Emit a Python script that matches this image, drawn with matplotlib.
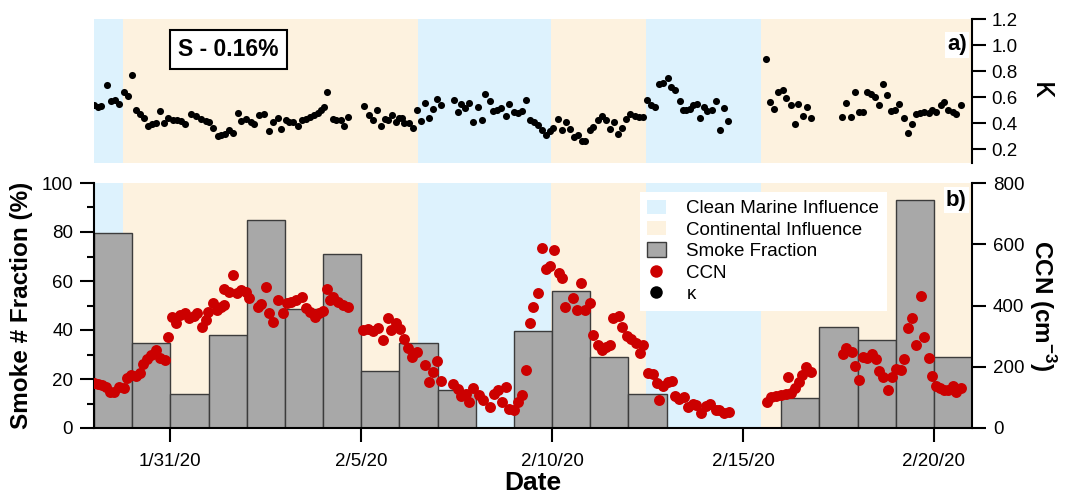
import numpy as np
import pandas as pd
import matplotlib
matplotlib.use("Agg")
import matplotlib.pyplot as plt
import matplotlib.dates as mdates
from matplotlib.patches import Patch
from matplotlib.lines import Line2D

plt.rcParams['font.family'] = ['Liberation Sans', 'DejaVu Sans']
plt.rcParams['mathtext.fontset'] = 'custom'
plt.rcParams['mathtext.rm'] = 'Liberation Sans'
plt.rcParams['mathtext.bf'] = 'Liberation Sans:bold'

# ---------------- data ----------------
T0 = pd.Timestamp('2020-01-31')   # day offsets below are measured from this date

smoke_dates = ["2020-01-29", "2020-01-30", "2020-01-31", "2020-02-01", "2020-02-02",
               "2020-02-03", "2020-02-04", "2020-02-05", "2020-02-06", "2020-02-07",
               "2020-02-08", "2020-02-09", "2020-02-10", "2020-02-11", "2020-02-12",
               "2020-02-13", "2020-02-14", "2020-02-15", "2020-02-16", "2020-02-17",
               "2020-02-18", "2020-02-19", "2020-02-20"]
smoke_frac = [79.5, 34.5, 13.8, 38.0, 85.0, 48.5, 71.0, 23.2, 34.5, 15.7,
              np.nan, 39.7, 56.0, 29.0, 14.0, np.nan, np.nan, np.nan, 12.3, 41.3,
              36.0, 93.0, 29.0]

region_starts = ["2020-01-29 00:00", "2020-01-29 18:00", "2020-02-06 11:30",
                 "2020-02-09 23:30", "2020-02-12 11:00", "2020-02-15 11:15"]
region_ends = ["2020-01-29 18:00", "2020-02-06 11:30", "2020-02-09 23:30",
               "2020-02-12 11:00", "2020-02-15 11:15", "2020-02-21 00:00"]
region_types = ["marine", "continental", "marine", "continental", "marine", "continental"]

ccn_days = [-2.01, -1.90, -1.80, -1.69, -1.57, -1.47, -1.34, -1.22, -1.14, -1.03,
            -0.90, -0.79, -0.73, -0.61, -0.51, -0.38, -0.26, -0.14, -0.07, 0.03,
            0.15, 0.26, 0.38, 0.50, 0.61, 0.71, 0.82, 0.93, 0.99, 1.11,
            1.22, 1.33, 1.40, 1.41, 1.54, 1.65, 1.74, 1.85, 1.98, 2.07,
            2.29, 2.37, 2.50, 2.59, 2.70, 2.81, 2.94, 3.05, 3.16, 3.29,
            3.44, 3.55, 3.66, 3.79, 3.90, 3.99, 4.10, 4.18, 4.25, 4.39,
            4.52, 4.65, 5.04, 5.17, 5.30, 5.43, 5.57, 5.70, 5.79, 5.92,
            6.02, 6.13, 6.22, 6.33, 6.46, 6.66, 6.77, 6.88, 6.98, 7.09,
            7.40, 7.53, 7.62, 7.75, 7.83, 7.94, 8.08, 8.18, 8.36, 8.49,
            8.58, 8.69, 8.78, 8.88, 9.00, 9.10, 9.21, 9.32, 9.41, 9.51,
            9.62, 9.73, 9.83, 9.95, 10.04, 10.17, 10.26, 10.35, 10.54, 10.64,
            10.76, 10.87, 10.98, 11.06, 11.19, 11.31, 11.41, 11.52, 11.60, 11.74,
            11.83, 11.95, 12.07, 12.20, 12.29, 12.39, 12.50, 12.64, 12.74, 12.79,
            12.91, 13.03, 13.14, 13.23, 13.33, 13.45, 13.55, 13.68, 13.77, 13.90,
            14.03, 14.14, 14.28, 14.38, 14.51, 14.64,
            15.62, 15.73, 15.86, 15.99, 16.12, 16.17, 16.26, 16.37, 16.46, 16.54,
            16.65, 16.78, 17.61, 17.71, 17.85, 17.94, 18.05, 18.15, 18.26, 18.39,
            18.48, 18.57, 18.67, 18.79, 18.90, 19.00, 19.13, 19.22, 19.31, 19.44,
            19.53, 19.66, 19.75, 19.86, 19.95, 20.05, 20.16, 20.27, 20.38, 20.49,
            20.59, 20.70]
ccn_vals = [147, 145, 140, 134, 118, 118, 134, 131, 162, 172,
            169, 180, 208, 224, 238, 254, 230, 222, 296, 363,
            344, 369, 376, 358, 366, 374, 331, 352, 380, 407,
            385, 396, 402, 453, 445, 500, 440, 451, 445, 423,
            396, 405, 459, 374, 347, 418, 374, 407, 412, 418,
            429, 391, 380, 361, 374, 383, 453, 418, 429, 412,
            402, 394, 320, 322, 318, 325, 287, 358, 320, 342,
            322, 292, 260, 232, 249, 205, 151, 183, 219, 154,
            143, 126, 105, 112, 85, 129, 107, 91, 67, 112,
            123, 85, 134, 63, 58, 85, 107, 189, 344, 394,
            442, 587, 518, 529, 582, 507, 489, 396, 423, 385,
            475, 385, 407, 303, 271, 254, 265, 271, 358, 366,
            331, 300, 292, 276, 246, 271, 180, 176, 147, 91,
            136, 151, 154, 104, 96, 102, 69, 80, 74, 49,
            71, 80, 58, 60, 49, 52,
            85, 102, 104, 107, 112, 167, 115, 132, 151, 172,
            200, 183, 243, 260, 249, 202, 158, 232, 230, 243,
            224, 187, 165, 123, 167, 194, 191, 224, 328, 358,
            271, 431, 298, 230, 169, 136, 132, 123, 123, 136,
            118, 132]

kappa_days = [-2.01, -1.90, -1.82, -1.66, -1.55, -1.45, -1.34, -1.22, -1.12, -1.01,
              -0.90, -0.79, -0.68, -0.58, -0.49, -0.38, -0.26, -0.16, -0.07, 0.06,
              0.17, 0.28, 0.38, 0.54, 0.67, 0.80, 0.93, 1.02, 1.12, 1.24,
              1.32, 1.43, 1.54, 1.65, 1.76, 1.85, 1.98, 2.11, 2.20, 2.33,
              2.46, 2.59, 2.68, 2.81, 2.91, 3.03, 3.12, 3.20, 3.33, 3.46,
              3.55, 3.66, 3.75, 3.86, 3.94, 4.03, 4.10, 4.25, 4.34, 4.47,
              4.54, 4.64, 5.08, 5.21, 5.30, 5.41, 5.52, 5.61, 5.70, 5.81,
              5.92, 6.00, 6.07, 6.13, 6.25, 6.35, 6.46, 6.57, 6.66, 6.77,
              6.87, 6.98, 7.09, 7.42, 7.53, 7.62, 7.73, 7.83, 7.94, 8.05,
              8.16, 8.25, 8.36, 8.45, 8.55, 8.66, 8.78, 8.88, 8.99, 9.10,
              9.21, 9.32, 9.42, 9.52, 9.62, 9.73, 9.84, 9.95, 10.03, 10.15,
              10.26, 10.37, 10.47, 10.58, 10.69, 10.79, 10.87, 10.98, 11.08, 11.19,
              11.31, 11.41, 11.52, 11.63, 11.72, 11.83, 11.94, 12.04, 12.16, 12.27,
              12.39, 12.49, 12.59, 12.70, 12.81, 12.91, 13.03, 13.12, 13.23, 13.35,
              13.44, 13.52, 13.61, 13.70, 13.79, 13.87, 13.98, 14.07, 14.19, 14.29,
              14.40, 14.51, 14.62,
              15.60, 15.71, 15.82, 15.91, 16.04, 16.12, 16.25, 16.35, 16.45, 16.56,
              16.67, 16.78, 17.59, 17.71, 17.83, 17.93, 18.04, 18.15, 18.24, 18.35,
              18.46, 18.57, 18.66, 18.77, 18.87, 18.99, 19.09, 19.22, 19.31, 19.42,
              19.53, 19.63, 19.75, 19.86, 19.96, 20.05, 20.18, 20.27, 20.38, 20.49,
              20.59, 20.70]
kappa_vals = [0.544, 0.526, 0.533, 0.697, 0.569, 0.582, 0.551, 0.641, 0.608, 0.772,
              0.505, 0.469, 0.444, 0.382, 0.392, 0.405, 0.495, 0.403, 0.444, 0.428,
              0.423, 0.415, 0.397, 0.469, 0.454, 0.431, 0.415, 0.410, 0.364, 0.300,
              0.308, 0.321, 0.351, 0.326, 0.482, 0.418, 0.436, 0.408, 0.392, 0.462,
              0.474, 0.341, 0.410, 0.441, 0.359, 0.423, 0.410, 0.410, 0.377, 0.428,
              0.436, 0.449, 0.462, 0.480, 0.505, 0.526, 0.641, 0.436, 0.423, 0.423,
              0.377, 0.449, 0.533, 0.462, 0.423, 0.505, 0.377, 0.436, 0.423, 0.462,
              0.410, 0.444, 0.444, 0.403, 0.403, 0.367, 0.500, 0.418, 0.556, 0.441,
              0.513, 0.585, 0.539, 0.577, 0.487, 0.546, 0.518, 0.556, 0.410, 0.526,
              0.423, 0.628, 0.572, 0.492, 0.500, 0.518, 0.459, 0.551, 0.487, 0.480,
              0.492, 0.582, 0.423, 0.410, 0.385, 0.351, 0.308, 0.341, 0.367, 0.436,
              0.346, 0.410, 0.359, 0.295, 0.308, 0.262, 0.262, 0.351, 0.372, 0.428,
              0.454, 0.423, 0.359, 0.410, 0.321, 0.367, 0.436, 0.474, 0.454, 0.449,
              0.449, 0.577, 0.539, 0.526, 0.705, 0.710, 0.751, 0.680, 0.659, 0.569,
              0.500, 0.500, 0.513, 0.539, 0.551, 0.441, 0.526, 0.492, 0.505, 0.572,
              0.351, 0.521, 0.415,
              0.897, 0.564, 0.508, 0.641, 0.659, 0.595, 0.539, 0.397, 0.551, 0.454,
              0.526, 0.444, 0.449, 0.556, 0.449, 0.641, 0.487, 0.487, 0.641, 0.628,
              0.603, 0.544, 0.705, 0.621, 0.492, 0.500, 0.551, 0.444, 0.326, 0.392,
              0.469, 0.480, 0.487, 0.482, 0.500, 0.487, 0.544, 0.564, 0.505, 0.487,
              0.474, 0.544]

x_ticks = ["2020-01-31", "2020-02-05", "2020-02-10", "2020-02-15", "2020-02-20"]
x_range = ["2020-01-29", "2020-02-21"]

# ---------------- styles ----------------
C_MARINE = '#DDF2FD'
C_CONT = '#FDF2DF'
C_BAR = '#A8A8A8'
C_CCN = '#CC0000'
region_color = {"marine": C_MARINE, "continental": C_CONT}

def to_dt(days):
    return T0 + pd.to_timedelta(np.asarray(days, dtype=float), unit='D')

fig = plt.figure(figsize=(10.65, 5.0), dpi=100)
ax_b = fig.add_axes([0.0883, 0.144, 0.8244, 0.490])
ax_a = fig.add_axes([0.0883, 0.675, 0.8244, 0.287])

xlim = [pd.Timestamp(x_range[0]), pd.Timestamp(x_range[1])]

for ax in (ax_a, ax_b):
    for s, e, t in zip(region_starts, region_ends, region_types):
        ax.axvspan(pd.Timestamp(s), pd.Timestamp(e), color=region_color[t], lw=0, zorder=0)
    ax.set_xlim(xlim)

# ----- top panel: kappa -----
ax_a.scatter(to_dt(kappa_days), kappa_vals, s=26, color='black', zorder=3, linewidths=0)
ax_a.set_ylim(0.1, 1.2)
ax_a.set_yticks([0.2, 0.4, 0.6, 0.8, 1.0, 1.2])
ax_a.yaxis.set_major_formatter(matplotlib.ticker.FormatStrFormatter('%.1f'))
ax_a.yaxis.tick_right()
ax_a.yaxis.set_label_position('right')
for sp in ['left', 'top', 'bottom']:
    ax_a.spines[sp].set_visible(False)
ax_a.spines['right'].set_linewidth(1.5)
ax_a.tick_params(axis='y', direction='out', length=10, width=1.5, labelsize=13.5, pad=4)
ax_a.set_xticks([])
ax_a.set_ylabel('κ', rotation=270, fontsize=24, labelpad=18, va='center')
ax_a.text(0.153, 0.785, 'S - 0.16%', transform=ax_a.transAxes, fontsize=16.5,
          fontweight='bold', ha='center', va='center', zorder=5,
          bbox=dict(boxstyle='square,pad=0.35', fc='white', ec='black', lw=1.5))
ax_a.text(0.994, 0.82, 'a)', transform=ax_a.transAxes, fontsize=16, fontweight='bold',
          ha='right', va='center', zorder=5,
          bbox=dict(boxstyle='square,pad=0.1', fc='white', ec='none'))

# ----- bottom panel: smoke fraction bars + CCN -----
bars = ax_b.bar(pd.to_datetime(smoke_dates), smoke_frac, width=1.0, align='edge',
                color=C_BAR, edgecolor='#3C3C3C', linewidth=1.0, zorder=2)
ax_b.set_ylim(0, 100)
ax_b.set_yticks([0, 20, 40, 60, 80, 100])
ax_b.set_yticks([10, 30, 50, 70, 90], minor=True)
ax_b.spines['top'].set_visible(False)
ax_b.spines['right'].set_visible(False)
for sp in ['left', 'bottom']:
    ax_b.spines[sp].set_linewidth(1.5)
ax_b.tick_params(axis='y', which='major', direction='out', length=10, width=1.5,
                 labelsize=13.5, pad=5)
ax_b.tick_params(axis='y', which='minor', direction='out', length=5, width=1.5)
ax_b.set_xticks(pd.to_datetime(x_ticks))
ax_b.xaxis.set_major_formatter(mdates.DateFormatter('%-m/%-d/%y'))
ax_b.tick_params(axis='x', which='major', direction='out', length=10, width=1.5,
                 labelsize=13.5, pad=8)
ax_b.tick_params(axis='x', which='minor', length=0)
ax_b.set_ylabel('Smoke # Fraction (%)', fontsize=17.5, fontweight='bold', labelpad=6)
ax_b.set_xlabel('Date', fontsize=19, fontweight='bold', labelpad=1)

ax2 = ax_b.twinx()
ax2.scatter(to_dt(ccn_days), ccn_vals, s=62, color=C_CCN, zorder=3, linewidths=0)
ax2.set_ylim(0, 800)
ax2.set_yticks([0, 200, 400, 600, 800])
for sp in ['left', 'top', 'bottom']:
    ax2.spines[sp].set_visible(False)
ax2.spines['right'].set_linewidth(1.5)
ax2.tick_params(axis='y', direction='out', length=10, width=1.5, labelsize=13.5, pad=5)
ax2.set_ylabel(r'CCN (cm$^{\mathbf{-3}}$)', rotation=270, fontsize=17.5,
               fontweight='bold', labelpad=24)
ax2.set_xlim(xlim)

ax2.text(0.994, 0.93, 'b)', transform=ax2.transAxes, fontsize=16, fontweight='bold',
         ha='right', va='center', zorder=6,
         bbox=dict(boxstyle='square,pad=0.1', fc='white', ec='none'))

handles = [Patch(facecolor=C_MARINE, edgecolor='none'),
           Patch(facecolor=C_CONT, edgecolor='none'),
           Patch(facecolor=C_BAR, edgecolor='#3C3C3C', linewidth=1.0),
           Line2D([], [], ls='none', marker='o', ms=9, color=C_CCN, mec='none'),
           Line2D([], [], ls='none', marker='o', ms=9, color='black', mec='none')]
labels = ['Clean Marine Influence', 'Continental Influence', 'Smoke Fraction', 'CCN', 'κ']
leg = ax2.legend(handles, labels, loc='upper right', bbox_to_anchor=(0.903, 0.963),
                 fontsize=13.5, frameon=True, fancybox=False, framealpha=1.0,
                 edgecolor='none', facecolor='white', borderpad=0.4,
                 labelspacing=0.2, handlelength=1.0, handleheight=0.8,
                 handletextpad=1.1, borderaxespad=0)
leg.set_zorder(10)

fig.savefig('out.png', dpi=100)
